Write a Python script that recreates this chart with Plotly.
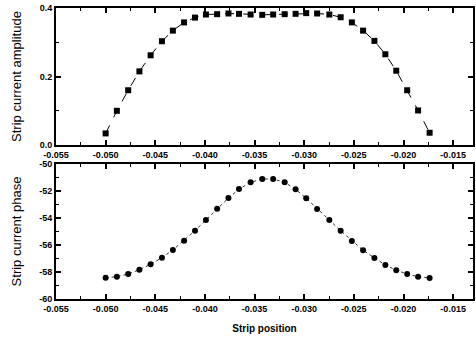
import plotly.graph_objects as go

# Strip positions (shared by both panels)
positions = [-0.0500, -0.04887, -0.04773, -0.0466, -0.04547, -0.04433, -0.04323, -0.0421,
             -0.0410, -0.0399, -0.03877, -0.03763, -0.03657, -0.0354, -0.03423, -0.03313,
             -0.03197, -0.03087, -0.0298, -0.0287, -0.02747, -0.02633, -0.0252, -0.02407,
             -0.02293, -0.02183, -0.02073, -0.01963, -0.01853, -0.01737]

amplitude = [0.034, 0.100, 0.160, 0.215, 0.262, 0.303, 0.334, 0.358, 0.372, 0.381,
             0.382, 0.384, 0.383, 0.381, 0.380, 0.381, 0.382, 0.383, 0.385, 0.384,
             0.381, 0.373, 0.358, 0.334, 0.304, 0.265, 0.217, 0.160, 0.101, 0.036]

phase = [-58.42, -58.35, -58.15, -57.83, -57.43, -56.94, -56.37, -55.68, -54.94, -54.15,
         -53.31, -52.52, -51.86, -51.36, -51.11, -51.11, -51.36, -51.87, -52.54, -53.33,
         -54.15, -54.94, -55.70, -56.39, -56.96, -57.48, -57.87, -58.15, -58.35, -58.44]

x_ticks = [-0.055, -0.050, -0.045, -0.040, -0.035, -0.030, -0.025, -0.020, -0.015]
x_tick_text = ["-0.055", "-0.050", "-0.045", "-0.040", "-0.035", "-0.030", "-0.025", "-0.020", "-0.015"]
amp_ticks = [0.0, 0.2, 0.4]
amp_tick_text = ["0.0", "0.2", "0.4"]
phase_ticks = [-60, -58, -56, -54, -52, -50]
phase_tick_text = ["-60", "-58", "-56", "-54", "-52", "-50"]

fig = go.Figure()
fig.add_trace(go.Scatter(x=positions, y=amplitude, mode="lines+markers",
                         line=dict(color="black", width=1, dash="dash"),
                         marker=dict(symbol="square", size=6, color="black"),
                         xaxis="x", yaxis="y", showlegend=False))
fig.add_trace(go.Scatter(x=positions, y=phase, mode="lines+markers",
                         line=dict(color="black", width=0.8, dash="dot"),
                         marker=dict(symbol="circle", size=6, color="black"),
                         xaxis="x2", yaxis="y2", showlegend=False))

tickfont = dict(family="Liberation Sans, Arial", size=9, color="black", weight="bold")
titlefont = dict(family="Liberation Sans, Arial", size=13, color="black")

common_x = dict(range=[-0.055, -0.013], tickvals=x_ticks, ticktext=x_tick_text,
                showline=True, linecolor="black", linewidth=2, mirror="ticks",
                ticks="inside", ticklen=5, tickwidth=1.5, tickcolor="black",
                minor=dict(dtick=0.0025, tick0=-0.055, ticks="inside", ticklen=3,
                           tickwidth=1.2, tickcolor="black"),
                showgrid=False, zeroline=False, tickfont=tickfont)

common_y = dict(showline=True, linecolor="black", linewidth=2, mirror="ticks",
                ticks="inside", ticklen=5, tickwidth=1.5, tickcolor="black",
                showgrid=False, zeroline=False, tickfont=tickfont)

fig.update_layout(
    width=476, height=343,
    margin=dict(l=56, r=1, t=8, b=44),
    paper_bgcolor="white", plot_bgcolor="white",
    xaxis=dict(domain=[0, 1], anchor="y", **common_x),
    xaxis2=dict(domain=[0, 1], anchor="y2",
                title=dict(text="Strip position",
                           font=dict(family="Liberation Sans, Arial", size=10, color="black", weight="bold"),
                           standoff=12),
                **common_x),
    yaxis=dict(domain=[0.529, 1.0], anchor="x", range=[0, 0.4],
               tickvals=amp_ticks, ticktext=amp_tick_text,
               minor=dict(dtick=0.1, ticks="inside", ticklen=3, tickwidth=1.2, tickcolor="black"),
               title=dict(text="Strip current amplitude", font=titlefont, standoff=15),
               **common_y),
    yaxis2=dict(domain=[0, 0.464], anchor="x2", range=[-60, -50],
                tickvals=phase_ticks, ticktext=phase_tick_text,
                minor=dict(dtick=1, ticks="inside", ticklen=3, tickwidth=1.2, tickcolor="black"),
                title=dict(text="Strip current phase", font=titlefont, standoff=15),
                **common_y),
)

fig.write_html("out.html")
